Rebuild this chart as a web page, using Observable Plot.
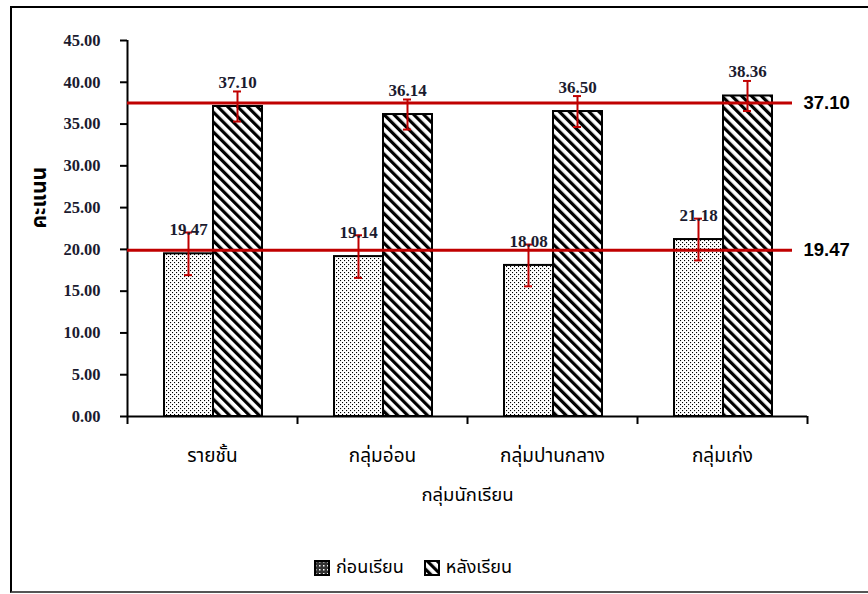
<!DOCTYPE html>
<html><head><meta charset="utf-8">
<script src="https://cdn.jsdelivr.net/npm/d3@7"></script>
<script src="https://cdn.jsdelivr.net/npm/@observablehq/plot@0.6"></script>
<style>
body{margin:0;background:#fff;width:868px;height:594px;overflow:hidden;position:relative;}
#frame{position:absolute;left:10px;top:6px;width:880px;height:587px;border:2px solid #000;border-bottom-color:#555;box-sizing:border-box;}
#chart{position:absolute;left:0;top:0;}
#legend{position:absolute;left:314px;top:554px;display:flex;align-items:center;font-family:Tahoma,"Noto Sans Thai","Noto Sans","DejaVu Sans",sans-serif;font-size:18px;color:#000;}
#legend span{margin:0 20px 0 6px;}
</style></head>
<body>
<svg width="0" height="0" style="position:absolute">
  <defs>
    <pattern id="dots" width="4" height="4" patternUnits="userSpaceOnUse">
      <rect width="4" height="4" fill="#fff"/>
      <rect x="0" y="0" width="1.1" height="1.1" fill="#000"/>
      <rect x="2" y="2" width="1.1" height="1.1" fill="#000"/>
    </pattern>
    <pattern id="dotsLegend" width="4" height="4" patternUnits="userSpaceOnUse">
      <rect width="4" height="4" fill="#333"/>
      <rect x="1" y="1" width="1.5" height="1.5" fill="#fff"/>
    </pattern>
    <pattern id="stripes" width="7" height="7" patternUnits="userSpaceOnUse" patternTransform="rotate(-45)">
      <rect width="7" height="7" fill="#fff"/>
      <rect x="0" y="0" width="3.2" height="7" fill="#000"/>
    </pattern>
  </defs>
</svg>
<div id="frame"></div>
<div id="chart"></div>
<div id="legend">
  <svg width="16" height="16"><rect x="1" y="1" width="14" height="14" fill="url(#dotsLegend)" stroke="#000" stroke-width="2"/></svg><span>ก่อนเรียน</span>
  <svg width="16" height="16"><rect x="1" y="1" width="14" height="14" fill="url(#stripes)" stroke="#000" stroke-width="2"/></svg><span>หลังเรียน</span>
</div>
<script>
const groups = ["รายชั้น", "กลุ่มอ่อน", "กลุ่มปานกลาง", "กลุ่มเก่ง"];
const seriesNames = ["ก่อนเรียน", "หลังเรียน"];
const preMeans = [19.47, 19.14, 18.08, 21.18];
const postMeans = [37.10, 36.14, 36.50, 38.36];
const preErr = [2.55, 2.55, 2.5, 2.5];
const postErr = [1.8, 1.8, 1.85, 1.8];
const overallMeans = [37.10, 19.47];
const yTicks = [0, 5, 10, 15, 20, 25, 30, 35, 40, 45];
const yLabel = "คะแนน";
const xLabel = "กลุ่มนักเรียน";

const pre = groups.map((g, i) => ({group: g, series: seriesNames[0], value: preMeans[i], err: preErr[i]}));
const post = groups.map((g, i) => ({group: g, series: seriesNames[1], value: postMeans[i], err: postErr[i]}));

const thai = 'Tahoma,"Noto Sans Thai","Noto Sans","DejaVu Sans",sans-serif';
const serif = '"Liberation Serif","Times New Roman",serif';
const red = "#c00000";

const errMarks = (rows, dx, capL, capR) => [
  Plot.ruleX(rows, {x: "group", y1: d => d.value - d.err, y2: d => d.value + d.err, dx, stroke: red, strokeWidth: 2}),
  Plot.tickY(rows, {x: "group", y: d => d.value + d.err, insetLeft: capL, insetRight: capR, stroke: red, strokeWidth: 2}),
  Plot.tickY(rows, {x: "group", y: d => d.value - d.err, insetLeft: capL, insetRight: capR, stroke: red, strokeWidth: 2})
];
const valueLabels = (rows, dx) => Plot.text(rows, {
  x: "group", y: "value", text: d => d.value.toFixed(2), dx, dy: -24,
  fontFamily: serif, fontWeight: "bold", fontSize: 17, fill: "#1b1b2f"
});

const plot = Plot.plot({
  width: 868,
  height: 530,
  marginTop: 40,
  marginBottom: 114,
  marginLeft: 127,
  marginRight: 61,
  x: {domain: groups, padding: 0},
  y: {domain: [0, 45]},
  style: {background: "transparent", overflow: "visible"},
  marks: [
    Plot.barY(pre, {x: "group", y: "value", fill: "url(#dots)", stroke: "#000", strokeWidth: 2, insetLeft: 37, insetRight: 84}),
    Plot.barY(post, {x: "group", y: "value", fill: "url(#stripes)", stroke: "#000", strokeWidth: 2, insetLeft: 86, insetRight: 35}),
    Plot.ruleY([0], {stroke: "#000", strokeWidth: 2}),
    Plot.ruleX([groups[0]], {x: d => d, y1: 0, y2: 45, dx: -85, stroke: "#000", strokeWidth: 2}),
    Plot.ruleX(groups, {x: d => d, y1: 0, y2: 0, insetBottom: -8, dx: -85, stroke: "#000", strokeWidth: 2}),
    Plot.ruleX([groups[groups.length - 1]], {x: d => d, y1: 0, y2: 0, insetBottom: -8, dx: 85, stroke: "#000", strokeWidth: 2}),
    Plot.axisY({ticks: yTicks, tickSize: 7, tickPadding: 20, tickFormat: d3.format(".2f"), label: null,
      fontFamily: serif, fontWeight: "bold", fontSize: 16.5, fill: "#1b1b2f", stroke: "#000", strokeWidth: 2}),
    Plot.axisX({tickSize: 0, tickPadding: 32, label: null, fontFamily: thai, fontSize: 19, fill: "#000"}),
    Plot.ruleY(overallMeans, {stroke: red, strokeWidth: 3, insetRight: 15, dy: -3.5}),
    ...errMarks(pre, -24, 57, 105),
    ...errMarks(post, 25, 106, 56),
    valueLabels(pre, -24),
    valueLabels(post, 25),
    Plot.text(overallMeans, {y: d => d, text: d => d.toFixed(2), frameAnchor: "right", textAnchor: "start", dx: -4, dy: -3.5,
      fontFamily: '"Liberation Sans",Arial,sans-serif', fontWeight: "bold", fontSize: 18.5, fill: "#000"}),
    Plot.text([xLabel], {text: d => d, frameAnchor: "bottom", dy: 84, fontFamily: thai, fontSize: 18.5, fill: "#000"}),
    Plot.text([yLabel], {text: d => d, frameAnchor: "left", dx: -88, rotate: -90, fontFamily: thai, fontWeight: "bold", fontSize: 21, fill: "#000"})
  ]
});
document.getElementById("chart").appendChild(plot);
</script>
</body></html>
